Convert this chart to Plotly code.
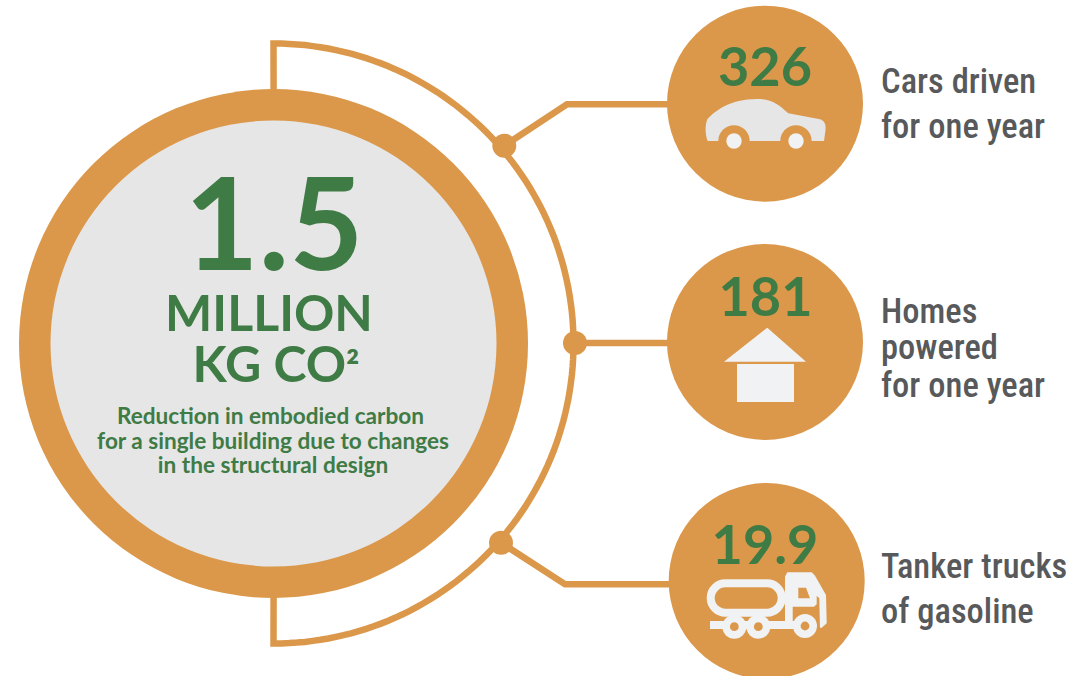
import plotly.graph_objects as go
import numpy as np

# ---- content ----
headline_value = ["1.5"]
headline_lines = ["MILLION", "KG CO<span style='font-size:40px'>²</span>"]
headline_note = ["Reduction in embodied carbon",
                 "for a single building due to changes",
                 "in the structural design"]
equivalent_values = ["326", "181", "19.9"]
equivalent_labels = [["Cars driven", "for one year"],
                     ["Homes", "powered", "for one year"],
                     ["Tanker trucks", "of gasoline"]]

# ---- layout and style ----
W, H = 1074, 676
ORANGE = "#db984b"
GREY = "#e6e6e6"
ICON = "#f1f2f4"
GREEN = "#3f7b45"
TEXT = "#58595b"
NUM_FONT = "Lato"
LABEL_FONT = "Roboto Condensed"

fig = go.Figure()
shapes = []


def disc(cx, cy, r, color):
    shapes.append(dict(type="circle", xref="x", yref="y", x0=cx - r, x1=cx + r,
                       y0=cy - r, y1=cy + r, fillcolor=color,
                       line=dict(width=0), layer="below"))


def path(d, fill=None, line=None, width=0):
    s = dict(type="path", xref="x", yref="y", path=d, layer="below",
             line=dict(width=width, color=line or "rgba(0,0,0,0)"))
    if fill:
        s["fillcolor"] = fill
    shapes.append(s)


def label(txt, x, baseline, size, color, family, weight=700, pos="middle center"):
    fig.add_trace(go.Scatter(
        x=[x], y=[baseline - 0.25 * size], mode="text", text=[txt], textposition=pos,
        textfont=dict(family=family, size=size, color=color, weight=weight),
        hoverinfo="skip", showlegend=False))


# outer arc with stubs
theta = np.linspace(-np.pi / 2, np.pi / 2, 121)
arc_pts = [(273.5 + 300 * np.cos(t), 343.5 + 300 * np.sin(t)) for t in theta]
d = "M 274 344 L " + " L ".join(f"{x:.1f} {y:.1f}" for x, y in arc_pts) + " L 274 344"
path(d, line=ORANGE, width=6.5)

# connectors
path("M 504.3 145.7 L 567 104.3 L 680 104.3", line=ORANGE, width=6.5)
path("M 575 343 L 680 343", line=ORANGE, width=6.5)
path("M 501 542.7 L 565 584.3 L 680 584.3", line=ORANGE, width=6.5)
disc(504.3, 145.7, 12, ORANGE)
disc(575, 343, 12, ORANGE)
disc(501, 542.7, 12, ORANGE)

# main circle
disc(273.5, 343.5, 254.5, ORANGE)
disc(273.5, 343.5, 223, GREY)

# right circles
disc(765, 103.7, 98, ORANGE)
disc(765, 342, 98, ORANGE)
disc(766.7, 581, 98, ORANGE)

# car
path("M 707.7 141 C 705 135 705 125 707.3 119.3 C 715 111 730 99 756.7 99 "
     "C 772 99 778 104 788.3 113.3 L 820 119.3 C 825 121 826 125 825.5 130 L 824 141 "
     "L 811.7 141 C 811.7 132.3 804.7 125.3 796 125.3 C 787.3 125.3 780.3 132.3 780.3 141 "
     "L 749.7 141 C 749.7 132.3 742.7 125.3 734 125.3 C 725.3 125.3 718.3 132.3 718.3 141 Z",
     fill=GREY)
disc(734, 141, 7.7, ICON)
disc(796, 141, 7.7, ICON)

# house
path("M 767.3 327.7 L 806 361.7 L 724 361.7 Z", fill=ICON)
path("M 737 364 L 794 364 L 794 402 L 737 402 Z", fill=ICON)


# truck (icon grid: 1/3 px from 700,565)
def tx(X):
    return 700 + X / 3


def ty(Y):
    return 565 + Y / 3


def poly(pts):
    return "M " + " L ".join(f"{tx(a):.1f} {ty(b):.1f}" for a, b in pts) + " Z"


path("M 725.4 583.3 L 767 583.3 C 775.1 583.3 781.7 589.9 781.7 598 "
     "C 781.7 606.1 775.1 612.7 767 612.7 L 725.4 612.7 "
     "C 717.3 612.7 710.7 606.1 710.7 598 C 710.7 589.9 717.3 583.3 725.4 583.3 Z",
     line=ICON, width=8)
path(poly([(255, 35), (262, 22), (335, 22), (345, 32), (378, 90), (380, 175),
           (365, 188), (255, 188)]), fill=ICON)
path(poly([(295, 68), (318, 68), (330, 100), (295, 100)]), fill=ORANGE)
path(poly([(278, 125), (342, 125), (350, 118), (350, 92), (358, 100), (360, 196),
           (278, 196)]), fill=ORANGE)
path(poly([(30, 168), (300, 168), (300, 192), (30, 192)]), fill=ICON)
for X, Y in [(103, 185), (175, 185), (315, 183)]:
    disc(tx(X), ty(Y), 12, ICON)
    disc(tx(X), ty(Y), 4.4, ORANGE)

# main text
label(headline_value[0], 274, 270, 128, GREEN, NUM_FONT)
label(headline_lines[0], 269, 331, 50, GREEN, NUM_FONT)
label(headline_lines[1], 276, 382, 50, GREEN, NUM_FONT)
for txt, xc, base in zip(headline_note, [270.5, 273, 273], [424, 449, 473]):
    label(txt, xc, base, 22.6, GREEN, NUM_FONT)

# values
for txt, xc, base in zip(equivalent_values, [765, 765.5, 765], [86, 316, 564]):
    label(txt, xc, base, 54, GREEN, NUM_FONT)

# labels
baselines = [[93, 138], [322.7, 359, 396.7], [578, 623]]
for lines, bases in zip(equivalent_labels, baselines):
    for txt, base in zip(lines, bases):
        label(txt, 881, base, 34.5, TEXT, LABEL_FONT, weight=500, pos="middle right")

fig.update_layout(
    width=W, height=H, margin=dict(l=0, r=0, t=0, b=0),
    paper_bgcolor="white", plot_bgcolor="white", shapes=shapes, showlegend=False,
    xaxis=dict(range=[0, W], visible=False, fixedrange=True),
    yaxis=dict(range=[H, 0], visible=False, fixedrange=True),
)
fig.write_html("out.html", post_script="document.body.style.margin='0';document.body.style.overflow='hidden';",
               config=dict(displayModeBar=False))
